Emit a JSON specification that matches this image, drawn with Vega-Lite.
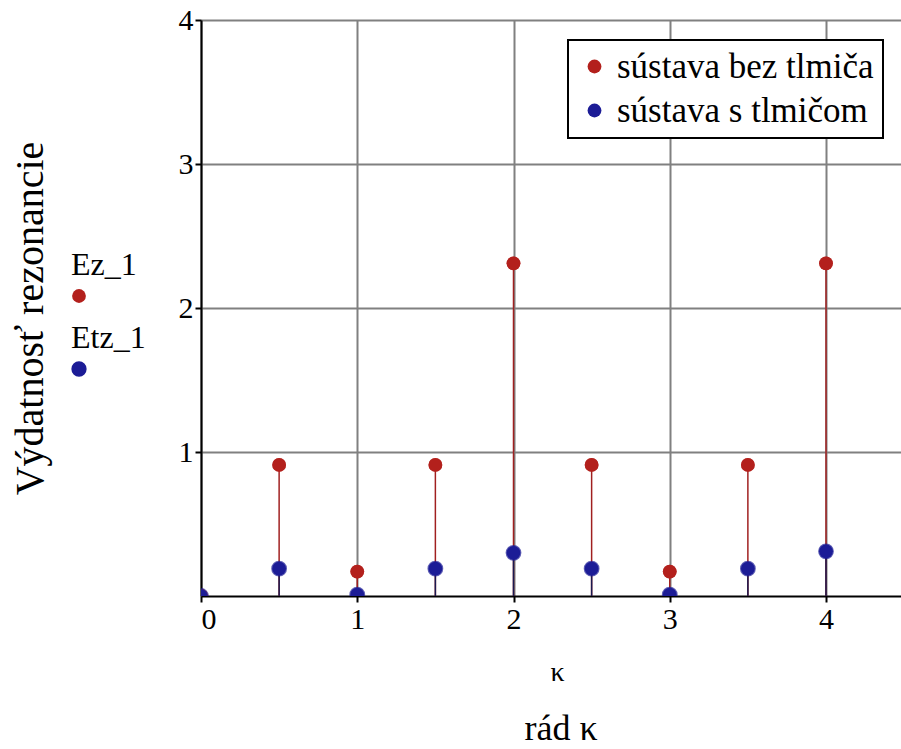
{
  "$schema": "https://vega.github.io/schema/vega-lite/v6.json",
  "width": 700,
  "height": 576,
  "autosize": {"type": "none"},
  "padding": {"left": 201, "top": 20, "right": 0, "bottom": 153},
  "background": "white",
  "config": {"font": "Liberation Serif", "view": {"stroke": null}, "legend": {"strokeWidth": 2}},
  "title": {"text": "rád κ", "orient": "bottom", "anchor": "middle", "fontSize": 36, "fontWeight": "normal", "font": "Liberation Serif", "color": "black", "offset": 26, "dx": 10},
  "data": {"values": [
    {"k": 0, "series": "sústava bez tlmiča", "v": 0},
    {"k": 0.5, "series": "sústava bez tlmiča", "v": 0.91},
    {"k": 1, "series": "sústava bez tlmiča", "v": 0.17},
    {"k": 1.5, "series": "sústava bez tlmiča", "v": 0.91},
    {"k": 2, "series": "sústava bez tlmiča", "v": 2.31},
    {"k": 2.5, "series": "sústava bez tlmiča", "v": 0.91},
    {"k": 3, "series": "sústava bez tlmiča", "v": 0.17},
    {"k": 3.5, "series": "sústava bez tlmiča", "v": 0.91},
    {"k": 4, "series": "sústava bez tlmiča", "v": 2.31},
    {"k": 0, "series": "sústava s tlmičom", "v": 0},
    {"k": 0.5, "series": "sústava s tlmičom", "v": 0.19},
    {"k": 1, "series": "sústava s tlmičom", "v": 0.01},
    {"k": 1.5, "series": "sústava s tlmičom", "v": 0.19},
    {"k": 2, "series": "sústava s tlmičom", "v": 0.3},
    {"k": 2.5, "series": "sústava s tlmičom", "v": 0.19},
    {"k": 3, "series": "sústava s tlmičom", "v": 0.01},
    {"k": 3.5, "series": "sústava s tlmičom", "v": 0.19},
    {"k": 4, "series": "sústava s tlmičom", "v": 0.31}
  ]},
  "encoding": {
    "x": {"field": "k", "type": "quantitative",
      "scale": {"domain": [0, 4.48], "nice": false, "zero": false},
      "axis": {"values": [0, 1, 2, 3, 4], "grid": true, "gridColor": "#808080", "gridWidth": 2,
        "domainColor": "black", "domainWidth": 2, "tickColor": "black", "tickSize": 6, "tickWidth": 2,
        "labelFontSize": 30, "labelColor": "black", "labelPadding": 2, "labelFont": "Liberation Serif",
        "title": "κ", "titleFontSize": 28, "titleFontWeight": "normal", "titleColor": "black", "titleFont": "Liberation Serif",
        "titleX": 356, "titleY": 76, "titleAlign": "center", "titleBaseline": "middle"}},
    "y": {"field": "v", "type": "quantitative",
      "scale": {"domain": [0, 4], "nice": false},
      "axis": {"values": [1, 2, 3, 4], "grid": true, "gridColor": "#808080", "gridWidth": 2,
        "domainColor": "black", "domainWidth": 2, "tickColor": "black", "tickSize": 6, "tickWidth": 2,
        "labelFontSize": 30, "labelColor": "black", "labelPadding": 2, "labelFont": "Liberation Serif",
        "title": "Výdatnosť rezonancie", "titleFontSize": 40, "titleFontWeight": "normal", "titleColor": "black", "titleFont": "Liberation Serif",
        "titleX": -171, "titleY": 298, "titleAngle": 270, "titleAlign": "center", "titleBaseline": "middle"}}
  },
  "layer": [
    {"transform": [{"filter": "datum.series == 'sústava bez tlmiča'"}],
     "mark": {"type": "rule", "color": "#a02020", "strokeWidth": 1.5},
     "encoding": {"y2": {"datum": 0}}},
    {"transform": [{"filter": "datum.series == 'sústava s tlmičom'"}],
     "mark": {"type": "rule", "color": "#1a1a50", "strokeWidth": 1.5},
     "encoding": {"y2": {"datum": 0}}},
    {"transform": [{"filter": "datum.series == 'sústava bez tlmiča'"}],
     "mark": {"type": "point", "filled": true, "shape": "circle", "size": 190, "clip": true},
     "encoding": {"fill": {"field": "series", "type": "nominal",
       "scale": {"domain": ["sústava bez tlmiča"], "range": ["#b3201c"]},
       "legend": {"orient": "none", "legendX": -130, "legendY": 230, "title": "Ez_1",
         "titleFontSize": 32, "titleFontWeight": "normal", "titleColor": "black", "titleFont": "Liberation Serif",
         "labelExpr": "''", "symbolSize": 190, "symbolType": "circle", "symbolOpacity": 1, "padding": 0, "titlePadding": 6}}}},
    {"transform": [{"filter": "datum.series == 'sústava s tlmičom'"}],
     "mark": {"type": "point", "filled": true, "shape": "circle", "size": 190, "fill": "#1c1c96", "clip": true},
     "encoding": {"stroke": {"field": "series", "type": "nominal",
       "scale": {"domain": ["sústava s tlmičom"], "range": ["#1c1c96"]},
       "legend": {"orient": "none", "legendX": -130, "legendY": 303, "title": "Etz_1",
         "titleFontSize": 32, "titleFontWeight": "normal", "titleColor": "black", "titleFont": "Liberation Serif",
         "labelExpr": "''", "symbolSize": 190, "symbolType": "circle", "symbolFillColor": "#1c1c96", "symbolOpacity": 1, "padding": 0, "titlePadding": 6}}}},
    {"mark": {"type": "point", "filled": true, "shape": "circle", "size": 190, "opacity": 1, "clip": true},
     "encoding": {"color": {"field": "series", "type": "nominal",
       "scale": {"domain": ["sústava bez tlmiča", "sústava s tlmičom"], "range": ["#b3201c", "#1c1c96"]},
       "legend": {"orient": "none", "legendX": 367, "legendY": 20, "title": null,
         "labelFontSize": 35, "labelColor": "black", "labelFont": "Liberation Serif", "labelLimit": 400,
         "symbolSize": 190, "symbolType": "circle", "symbolOpacity": 1, "labelOffset": 5,
         "strokeColor": "black", "fillColor": "white", "padding": 9, "rowPadding": 8}}}}
  ]
}
